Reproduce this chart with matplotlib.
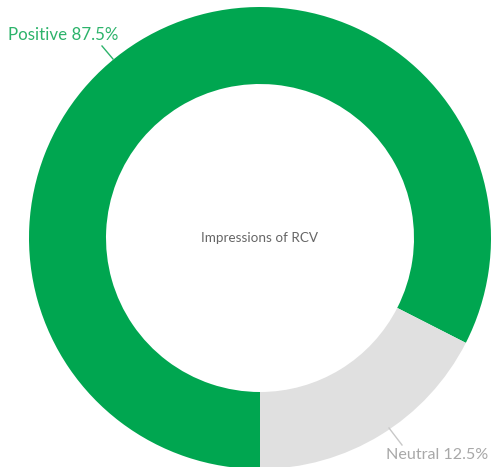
import matplotlib
matplotlib.use('Agg')
import matplotlib.pyplot as plt

# Impressions of RCV - donut
categories = ['Positive', 'Neutral']
label_pcts = [87.5, 12.5]          # printed on the labels
arc_shares = [82.5, 17.5]          # arc sizes as drawn in the picture
colors = ['#00a650', '#e0e0e0']
text_colors = ['#2db36b', '#a8a8a8']
center_title = 'Impressions of RCV'

W, H = 491, 467
fig = plt.figure(figsize=(W / 100, H / 100), dpi=100)
ax = fig.add_axes([0, 0, 1, 1])

cx, cy, r_out, r_in = 260, H - 238, 231, 154
ax.pie(arc_shares, colors=colors, startangle=-27, counterclock=True,
       center=(cx, cy), radius=r_out, frame=True,
       wedgeprops=dict(width=r_out - r_in, linewidth=0))
ax.set_xlim(0, W)
ax.set_ylim(0, H)
ax.set_aspect('equal')
ax.axis('off')

ax.text(cx, cy, center_title, ha='center', va='center', fontsize=9.7,
        color='#666666', family='Lato')

# labels with leader lines
ax.plot([102, 113], [H - 46, H - 59], color=text_colors[0], lw=1)
ax.text(8, H - 35, f'{categories[0]} {label_pcts[0]}%', ha='left', va='center',
        fontsize=12.2, color=text_colors[0], family='Lato')
ax.plot([389, 402], [H - 428, H - 445], color='#c8c8c8', lw=1)
ax.text(488, H - 455, f'{categories[1]} {label_pcts[1]}%', ha='right', va='center',
        fontsize=11.6, color=text_colors[1], family='Lato')

fig.savefig('out.png', dpi=100)
